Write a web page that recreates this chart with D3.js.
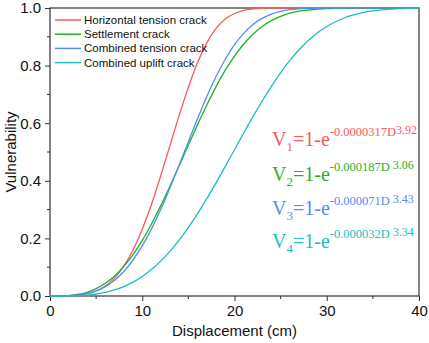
<!DOCTYPE html>
<html>
<head>
<meta charset="utf-8">
<script src="https://cdn.jsdelivr.net/npm/d3@7"></script>
<style>
  body { margin: 0; background: #fff; }
  svg { display: block; }
</style>
</head>
<body>
<div id="chart"></div>
<script>
// Chart size and plot box
const width = 429;
const height = 343;
const margin = { top: 8, right: 10, bottom: 47, left: 50 };

// Displacement values (cm)
const displacement = [0, 1, 2, 3, 4, 5, 6, 7, 8, 9, 10, 11, 12, 13, 14, 15, 16, 17, 18, 19, 20,
    21, 22, 23, 24, 25, 26, 27, 28, 29, 30, 31, 32, 33, 34, 35, 36, 37, 38, 39, 40];

// Vulnerability at the displacements above
const horizontalTension = [0, 0, 0.0005, 0.0023, 0.0072, 0.0173, 0.035, 0.063, 0.104, 0.160, 0.232,
    0.318, 0.417, 0.522, 0.627, 0.725, 0.811, 0.879, 0.929, 0.962, 0.981,
    0.992, 0.997, 0.999, 1, 1, 1, 1, 1, 1, 1, 1, 1, 1, 1, 1, 1, 1, 1, 1, 1];
const settlement = [0, 0.0002, 0.0016, 0.0054, 0.0129, 0.0254, 0.044, 0.0695, 0.103, 0.144, 0.193,
    0.250, 0.313, 0.381, 0.452, 0.524, 0.595, 0.663, 0.727, 0.784, 0.833,
    0.875, 0.909, 0.936, 0.956, 0.971, 0.982, 0.989, 0.993, 0.996, 0.998,
    0.999, 0.9995, 1, 1, 1, 1, 1, 1, 1, 1];
const combinedTension = [0, 0.0001, 0.0008, 0.0031, 0.0082, 0.0176, 0.0326, 0.0547, 0.085, 0.125, 0.174,
    0.233, 0.300, 0.375, 0.455, 0.536, 0.616, 0.693, 0.762, 0.822, 0.873,
    0.912, 0.943, 0.964, 0.979, 0.988, 0.994, 0.997, 0.9985, 0.9993, 1,
    1, 1, 1, 1, 1, 1, 1, 1, 1, 1];
const combinedUplift = [0, 0, 0.0003, 0.0013, 0.0033, 0.0069, 0.0126, 0.021, 0.0327, 0.0481, 0.0676,
    0.0918, 0.121, 0.155, 0.194, 0.238, 0.286, 0.338, 0.393, 0.450, 0.508,
    0.566, 0.623, 0.677, 0.728, 0.776, 0.818, 0.855, 0.887, 0.914, 0.936,
    0.953, 0.967, 0.977, 0.985, 0.990, 0.9936, 0.996, 0.9975, 0.9985, 0.999];

const seriesNames = ["Horizontal tension crack", "Settlement crack", "Combined tension crack", "Combined uplift crack"];
const seriesValues = [horizontalTension, settlement, combinedTension, combinedUplift];
const colors = ["#f85a5a", "#1fb31f", "#4f8ef7", "#1fbcbc"];

// Fitted equations shown on the chart: [subscript, coefficient, exponent]
const eqCoef = ["-0.0000317D", "-0.000187D", "-0.000071D", "-0.000032D"];
const eqPower = ["3.92", "3.06", "3.43", "3.34"];

const xTicks = [0, 10, 20, 30, 40];
const xMinor = [5, 15, 25, 35];
const yTicks = [0, 0.2, 0.4, 0.6, 0.8, 1.0];
const yMinor = [0.1, 0.3, 0.5, 0.7, 0.9];

const svg = d3.select("#chart")
    .append("svg")
    .attr("width", width)
    .attr("height", height);

const plotW = width - margin.left - margin.right;
const plotH = height - margin.top - margin.bottom;

const x = d3.scaleLinear().domain([0, 40]).range([margin.left, margin.left + plotW]);
const y = d3.scaleLinear().domain([0, 1]).range([margin.top + plotH, margin.top]);

const axisColor = "#333";
const font = "Liberation Sans, Arial, sans-serif";

// Plot frame
svg.append("rect")
    .attr("x", x(0))
    .attr("y", y(1))
    .attr("width", x(40) - x(0))
    .attr("height", y(0) - y(1))
    .attr("fill", "none")
    .attr("stroke", axisColor)
    .attr("stroke-width", 1.2);

// Bottom axis
const xAxis = svg.append("g")
    .attr("transform", `translate(0,${y(0)})`)
    .call(d3.axisBottom(x).tickValues(xTicks).tickFormat(d3.format("d")).tickSizeOuter(0).tickSize(5).tickPadding(4));
xAxis.append("g").selectAll("line")
    .data(xMinor).join("line")
    .attr("x1", d => x(d)).attr("x2", d => x(d))
    .attr("y1", 0).attr("y2", 3)
    .attr("stroke", axisColor);

// Left axis
const yAxis = svg.append("g")
    .attr("transform", `translate(${x(0)},0)`)
    .call(d3.axisLeft(y).tickValues(yTicks).tickFormat(d3.format(".1f")).tickSizeOuter(0).tickSize(5).tickPadding(4));
yAxis.append("g").selectAll("line")
    .data(yMinor).join("line")
    .attr("x1", 0).attr("x2", -3)
    .attr("y1", d => y(d)).attr("y2", d => y(d))
    .attr("stroke", axisColor);

svg.selectAll(".domain").remove();
svg.selectAll(".tick line").attr("stroke", axisColor).attr("stroke-width", 1);
svg.selectAll(".tick text")
    .attr("fill", "#111")
    .style("font-family", font)
    .style("font-size", "15px");

// Axis titles
svg.append("text")
    .attr("x", x(20))
    .attr("y", 336)
    .attr("text-anchor", "middle")
    .style("font-family", font)
    .style("font-size", "15px")
    .attr("fill", "#111")
    .text("Displacement (cm)");

svg.append("text")
    .attr("transform", `translate(16,${(y(0) + y(1)) / 2}) rotate(-90)`)
    .attr("text-anchor", "middle")
    .style("font-family", font)
    .style("font-size", "15px")
    .attr("fill", "#111")
    .text("Vulnerability");

// Curves
const line = d3.line()
    .x((d, i) => x(displacement[i]))
    .y(d => y(d))
    .curve(d3.curveMonotoneX);

svg.append("g").selectAll("path")
    .data(seriesValues)
    .join("path")
    .attr("d", d => line(d))
    .attr("fill", "none")
    .attr("stroke", (d, i) => colors[i])
    .attr("stroke-width", 1.3);

// Legend
const legend = svg.append("g")
    .selectAll("g")
    .data(seriesNames)
    .join("g")
    .attr("transform", (d, i) => `translate(55,${20 + i * 14.2})`);
legend.append("line")
    .attr("x1", 0).attr("x2", 26)
    .attr("stroke", (d, i) => colors[i])
    .attr("stroke-width", 1.5);
legend.append("text")
    .attr("x", 29)
    .attr("dy", "0.35em")
    .style("font-family", font)
    .style("font-size", "11.5px")
    .attr("fill", "#111")
    .text(d => d);

// Equations
const eqBase = [146, 181, 215, 248];
const eq = svg.append("g")
    .selectAll("text")
    .data(eqCoef)
    .join("text")
    .attr("x", 272)
    .attr("y", (d, i) => eqBase[i])
    .attr("fill", (d, i) => colors[i])
    .style("font-family", "Liberation Serif, Times New Roman, serif")
    .style("font-size", "20px");
eq.append("tspan").text("V");
eq.append("tspan").attr("dy", 5).style("font-size", "13px").text((d, i) => i + 1);
eq.append("tspan").attr("dy", -5).text("=1-e");
eq.append("tspan").attr("dy", -10).style("font-size", "12.5px").text(d => d);
eq.append("tspan").attr("dy", -2).attr("dx", (d, i) => i === 0 ? 0 : 3)
    .style("font-size", "12px").text((d, i) => eqPower[i]);
</script>
</body>
</html>
